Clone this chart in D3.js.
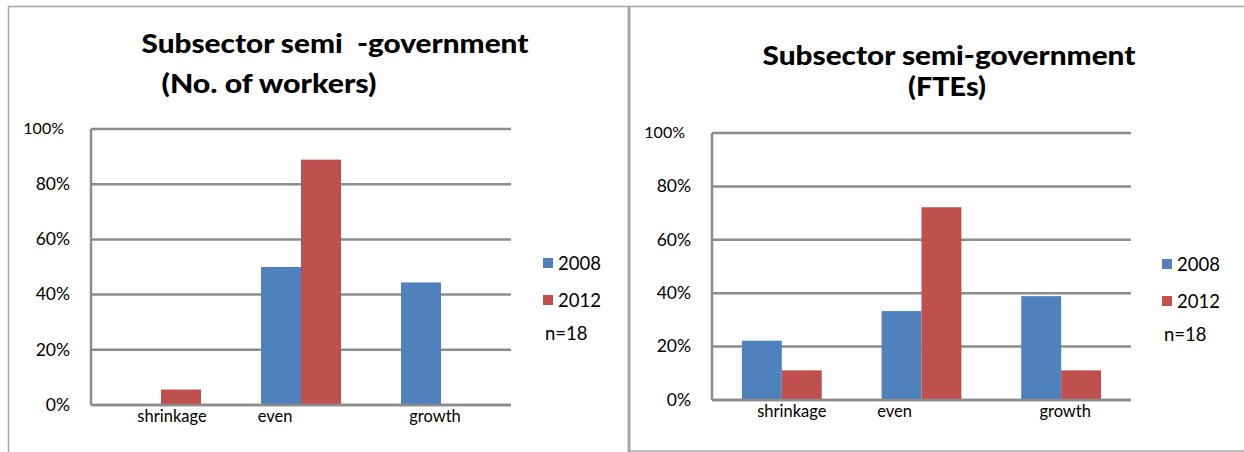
<!DOCTYPE html>
<html><head><meta charset="utf-8">
<script src="https://cdn.jsdelivr.net/npm/d3@7"></script>
<style>body{margin:0;background:#fff}svg{display:block}text{font-family:Lato,"Open Sans",sans-serif;fill:#000}</style>
</head><body>
<script>
const categories = ["shrinkage", "even", "growth"];
const seriesNames = ["2008", "2012"];
const workers2008 = [0, 0.5, 0.444];
const workers2012 = [0.056, 0.889, 0];
const fte2008 = [0.222, 0.333, 0.389];
const fte2012 = [0.111, 0.722, 0.111];
const yTicks = [0, 0.2, 0.4, 0.6, 0.8, 1.0];
const titleWorkers = ["Subsector semi  -government", "(No. of workers)"];
const titleFte = ["Subsector semi-government", "(FTEs)"];
const note = "n=18";

const colors = ["#4f81bd", "#c0504d"];
const W = 1244, H = 452;
const svg = d3.select("body").append("svg").attr("width", W).attr("height", H);

// panel borders
const bc = "#a6a6a6";
svg.append("line").attr("x1", 8).attr("x2", W).attr("y1", 6.5).attr("y2", 6.5).attr("stroke", bc).attr("stroke-width", 1.5);
svg.append("line").attr("x1", 8.5).attr("x2", 8.5).attr("y1", 6).attr("y2", H).attr("stroke", bc).attr("stroke-width", 1.5);
svg.append("line").attr("x1", 629).attr("x2", 629).attr("y1", 6).attr("y2", H).attr("stroke", bc).attr("stroke-width", 3);
svg.append("line").attr("x1", 629).attr("x2", W).attr("y1", 451).attr("y2", 451).attr("stroke", bc).attr("stroke-width", 1.5);

function drawChart(cfg) {
  const g = svg.append("g");
  const x = d3.scaleBand().domain(categories).range([cfg.left, cfg.right]).paddingInner(0).paddingOuter(0);
  const y = d3.scaleLinear().domain([0, 1]).range([cfg.bottom, cfg.top]);
  const inner = d3.scaleBand().domain(seriesNames).range([0, x.bandwidth()]).paddingOuter(0.75).paddingInner(0);

  g.selectAll(".grid").data(yTicks).join("line")
    .attr("x1", cfg.left).attr("x2", cfg.right)
    .attr("y1", d => y(d)).attr("y2", d => y(d))
    .attr("stroke", "#8c8c8c").attr("stroke-width", 2.5);
  g.append("line").attr("x1", cfg.left).attr("x2", cfg.left).attr("y1", y(1)).attr("y2", y(0))
    .attr("stroke", "#8c8c8c").attr("stroke-width", 2.5);

  const yAxis = d3.axisLeft(y).tickValues(yTicks).tickFormat(d3.format(".0%")).tickSize(0).tickPadding(21);
  const ya = g.append("g").attr("transform", `translate(${cfg.left},0)`).call(yAxis);
  ya.select(".domain").remove();
  ya.selectAll("text").attr("font-size", 17.5).attr("font-family", "Lato, sans-serif").attr("fill", "#000")
    .attr("dy", "0.3em");
  ya.selectAll("text").filter(d => d === 1).attr("font-size", 16).attr("dx", -6);

  const data = categories.map((c, i) => ({c, vals: [cfg.s1[i], cfg.s2[i]]}));
  data.forEach(d => {
    seriesNames.forEach((s, j) => {
      const v = d.vals[j];
      if (v <= 0) return;
      g.append("rect")
        .attr("x", x(d.c) + inner(s))
        .attr("width", inner.bandwidth())
        .attr("y", y(v))
        .attr("height", y(0) - y(v))
        .attr("fill", colors[j]);
    });
  });
  g.append("line").attr("x1", cfg.left).attr("x2", cfg.right).attr("y1", y(0)).attr("y2", y(0))
    .attr("stroke", "#8c8c8c").attr("stroke-width", 2.5);

  const xAxis = d3.axisBottom(x).tickSize(0).tickPadding(5);
  const xa = g.append("g").attr("transform", `translate(0,${cfg.bottom})`).call(xAxis);
  xa.select(".domain").remove();
  xa.selectAll("text").attr("font-size", 16.5).attr("font-family", "Lato, sans-serif").attr("fill", "#000")
    .attr("dx", (d, i) => cfg.labelShift[i]);

  cfg.title.forEach((t, i) => {
    g.append("text").attr("x", cfg.titleX[i]).attr("y", cfg.titleY[i])
      .attr("text-anchor", "middle").attr("font-weight", "900").attr("font-size", 26)
      .attr("textLength", cfg.titleW[i]).attr("lengthAdjust", "spacingAndGlyphs")
      .style("white-space", "pre").text(t);
  });

  seriesNames.forEach((s, j) => {
    const ly = cfg.legY + j * 37;
    g.append("rect").attr("x", cfg.legX).attr("y", ly - 5).attr("width", 10).attr("height", 10).attr("fill", colors[j]);
    g.append("text").attr("x", cfg.legX + 15).attr("y", ly).attr("dy", "0.36em").attr("font-size", 18.5).text(s);
  });
  g.append("text").attr("x", cfg.legX + 2).attr("y", cfg.legY + 70).attr("dy", "0.36em").attr("font-size", 18.5).text(note);
}

drawChart({left: 91, right: 511, top: 129, bottom: 405, s1: workers2008, s2: workers2012,
  title: titleWorkers, titleX: [335, 269], titleY: [53, 93], titleW: [387, 215],
  legX: 543, legY: 263, labelShift: [11, -26, -6]});
drawChart({left: 712, right: 1131, top: 133, bottom: 400, s1: fte2008, s2: fte2012,
  title: titleFte, titleX: [949, 947], titleY: [65, 96], titleW: [373, 78],
  legX: 1162, legY: 264, labelShift: [10, -27, 4]});
</script>
</body></html>
